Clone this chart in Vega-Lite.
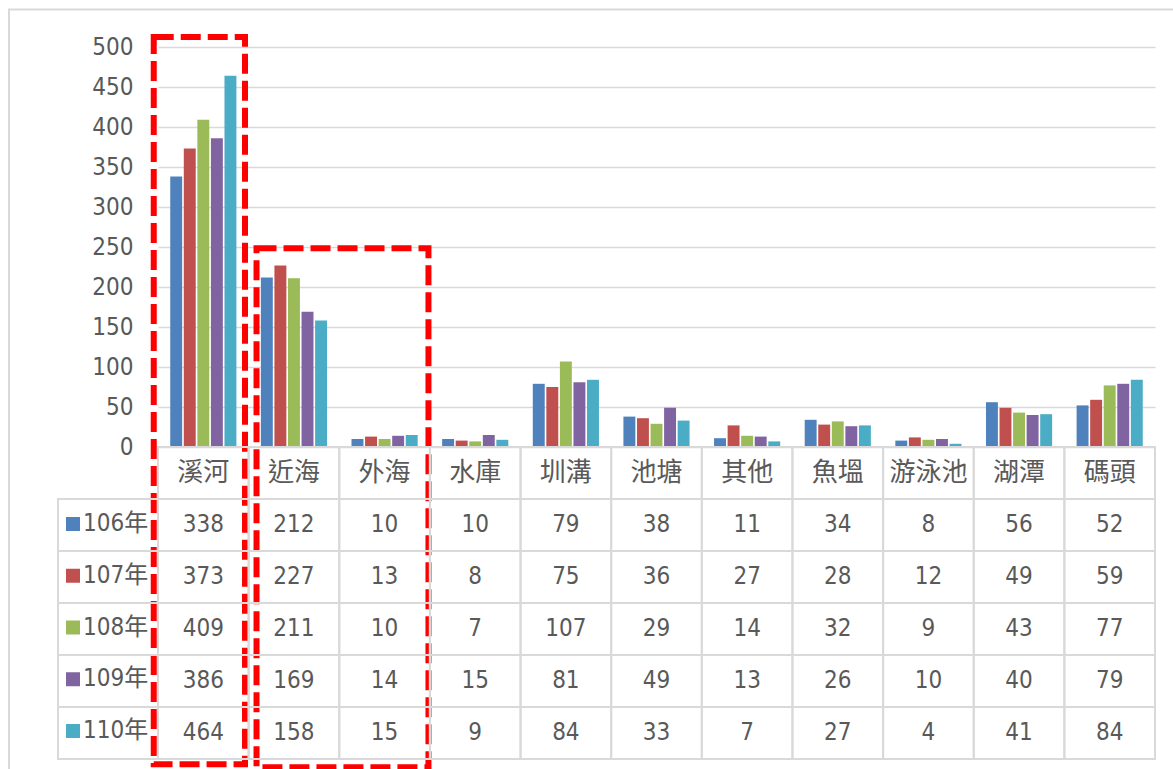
{
  "$schema": "https://vega.github.io/schema/vega-lite/v6.json",
  "padding": {"left": 7, "top": 8, "right": 0, "bottom": 0},
  "background": "white",
  "datasets": {
    "rows": [
      {"category": "溪河", "year": "106年", "value": 338},
      {"category": "溪河", "year": "107年", "value": 373},
      {"category": "溪河", "year": "108年", "value": 409},
      {"category": "溪河", "year": "109年", "value": 386},
      {"category": "溪河", "year": "110年", "value": 464},
      {"category": "近海", "year": "106年", "value": 212},
      {"category": "近海", "year": "107年", "value": 227},
      {"category": "近海", "year": "108年", "value": 211},
      {"category": "近海", "year": "109年", "value": 169},
      {"category": "近海", "year": "110年", "value": 158},
      {"category": "外海", "year": "106年", "value": 10},
      {"category": "外海", "year": "107年", "value": 13},
      {"category": "外海", "year": "108年", "value": 10},
      {"category": "外海", "year": "109年", "value": 14},
      {"category": "外海", "year": "110年", "value": 15},
      {"category": "水庫", "year": "106年", "value": 10},
      {"category": "水庫", "year": "107年", "value": 8},
      {"category": "水庫", "year": "108年", "value": 7},
      {"category": "水庫", "year": "109年", "value": 15},
      {"category": "水庫", "year": "110年", "value": 9},
      {"category": "圳溝", "year": "106年", "value": 79},
      {"category": "圳溝", "year": "107年", "value": 75},
      {"category": "圳溝", "year": "108年", "value": 107},
      {"category": "圳溝", "year": "109年", "value": 81},
      {"category": "圳溝", "year": "110年", "value": 84},
      {"category": "池塘", "year": "106年", "value": 38},
      {"category": "池塘", "year": "107年", "value": 36},
      {"category": "池塘", "year": "108年", "value": 29},
      {"category": "池塘", "year": "109年", "value": 49},
      {"category": "池塘", "year": "110年", "value": 33},
      {"category": "其他", "year": "106年", "value": 11},
      {"category": "其他", "year": "107年", "value": 27},
      {"category": "其他", "year": "108年", "value": 14},
      {"category": "其他", "year": "109年", "value": 13},
      {"category": "其他", "year": "110年", "value": 7},
      {"category": "魚塭", "year": "106年", "value": 34},
      {"category": "魚塭", "year": "107年", "value": 28},
      {"category": "魚塭", "year": "108年", "value": 32},
      {"category": "魚塭", "year": "109年", "value": 26},
      {"category": "魚塭", "year": "110年", "value": 27},
      {"category": "游泳池", "year": "106年", "value": 8},
      {"category": "游泳池", "year": "107年", "value": 12},
      {"category": "游泳池", "year": "108年", "value": 9},
      {"category": "游泳池", "year": "109年", "value": 10},
      {"category": "游泳池", "year": "110年", "value": 4},
      {"category": "湖潭", "year": "106年", "value": 56},
      {"category": "湖潭", "year": "107年", "value": 49},
      {"category": "湖潭", "year": "108年", "value": 43},
      {"category": "湖潭", "year": "109年", "value": 40},
      {"category": "湖潭", "year": "110年", "value": 41},
      {"category": "碼頭", "year": "106年", "value": 52},
      {"category": "碼頭", "year": "107年", "value": 59},
      {"category": "碼頭", "year": "108年", "value": 77},
      {"category": "碼頭", "year": "109年", "value": 79},
      {"category": "碼頭", "year": "110年", "value": 84}
    ]
  },
  "data": {"name": "rows"},
  "columns": 2,
  "spacing": 0,
  "bounds": "flush",
  "concat": [
    {
      "width": 100,
      "height": 400,
      "data": {"values": [{"t": ""}]},
      "mark": {"type": "text"},
      "encoding": {"text": {"field": "t", "type": "nominal"}}
    },
    {
      "width": 997,
      "height": 400,
      "resolve": {"scale": {"x": "independent", "y": "independent"}, "axis": {"y": "independent"}},
      "layer": [
        {
          "mark": {"type": "bar"},
          "encoding": {
            "x": {
              "field": "category",
              "type": "nominal",
              "sort": ["溪河", "近海", "外海", "水庫", "圳溝", "池塘", "其他", "魚塭", "游泳池", "湖潭", "碼頭"],
              "scale": {"domain": ["溪河", "近海", "外海", "水庫", "圳溝", "池塘", "其他", "魚塭", "游泳池", "湖潭", "碼頭"], "paddingInner": 0.27, "paddingOuter": 0.135},
              "axis": null
            },
            "xOffset": {"field": "year", "type": "nominal", "scale": {"paddingInner": 0.12}},
            "y": {
              "field": "value",
              "type": "quantitative",
              "scale": {"domain": [0, 500], "nice": false},
              "axis": {
                "values": [0, 50, 100, 150, 200, 250, 300, 350, 400, 450, 500],
                "tickCount": 20,
                "title": null,
                "domain": false,
                "ticks": false,
                "labelOverlap": false,
                "labelPadding": 25,
                "labelFontSize": 24,
                "labelFont": "DejaVu Sans Condensed, sans-serif",
                "labelColor": "#595959",
                "gridColor": "#d9d9d9",
                "gridWidth": 1.5
              }
            },
            "color": {
              "field": "year",
              "type": "nominal",
              "scale": {"domain": ["106年", "107年", "108年", "109年", "110年"], "range": ["#4f81bd", "#c0504d", "#9bbb59", "#8064a2", "#4bacc6"]},
              "legend": {
                "title": null,
                "orient": "none",
                "legendX": 3,
                "legendY": 465,
                "direction": "vertical",
                "symbolType": "square",
                "symbolSize": 196,
                "symbolStrokeWidth": 0,
                "labelFontSize": 24,
                "labelFont": "DejaVu Sans Condensed, Noto Sans CJK TC, sans-serif",
                "labelColor": "#595959",
                "labelBaseline": "middle",
                "labelOffset": -2,
                "rowPadding": 27.75,
                "padding": 0
              }
            }
          }
        },
        {
          "data": {"values": [{"x0": -1.644, "x1": 11.3, "y0": 547, "y1": -500}]},
          "mark": {"type": "rect", "fillOpacity": 0, "stroke": "#d9d9d9", "strokeWidth": 2, "clip": false},
          "encoding": {
            "x": {"field": "x0", "type": "quantitative", "scale": {"domain": [0, 11], "nice": false, "zero": false}, "axis": null},
            "x2": {"field": "x1"},
            "y": {"field": "y0", "type": "quantitative", "scale": {"domain": [0, 500], "nice": false, "zero": false}, "axis": null},
            "y2": {"field": "y1"}
          }
        },
        {
          "data": {"values": [{"x0": -0.047, "x1": 0.96, "y0": 512.5, "y1": -396.6}, {"x0": 1.087, "x1": 2.984, "y0": 248.4, "y1": -400.4}]},
          "mark": {"type": "rect", "fillOpacity": 0, "stroke": "#ff0000", "strokeWidth": 6, "strokeDash": [20, 7], "clip": false},
          "encoding": {
            "x": {"field": "x0", "type": "quantitative", "scale": {"domain": [0, 11], "nice": false, "zero": false}, "axis": null},
            "x2": {"field": "x1"},
            "y": {"field": "y0", "type": "quantitative", "scale": {"domain": [0, 500], "nice": false, "zero": false}, "axis": null},
            "y2": {"field": "y1"}
          }
        }
      ]
    },
    {
      "width": 100,
      "height": 312,
      "transform": [{"aggregate": [{"op": "count", "as": "n"}], "groupby": ["year"]}],
      "mark": {"type": "rect", "fillOpacity": 0, "stroke": "#d9d9d9", "strokeWidth": 2},
      "encoding": {
        "y": {
          "field": "year",
          "type": "nominal",
          "scale": {"domain": ["header", "106年", "107年", "108年", "109年", "110年"], "paddingInner": 0, "paddingOuter": 0},
          "axis": null
        }
      }
    },
    {
      "width": 997,
      "height": 312,
      "layer": [
        {
          "mark": {"type": "rect", "fillOpacity": 0, "stroke": "#d9d9d9", "strokeWidth": 2},
          "encoding": {
            "x": {
              "field": "category",
              "type": "nominal",
              "scale": {"domain": ["溪河", "近海", "外海", "水庫", "圳溝", "池塘", "其他", "魚塭", "游泳池", "湖潭", "碼頭"], "paddingInner": 0, "paddingOuter": 0},
              "axis": null
            },
            "y": {
              "field": "year",
              "type": "nominal",
              "scale": {"domain": ["header", "106年", "107年", "108年", "109年", "110年"], "paddingInner": 0, "paddingOuter": 0},
              "axis": null
            }
          }
        },
        {
          "transform": [{"aggregate": [{"op": "count", "as": "n"}], "groupby": ["category"]}, {"calculate": "'header'", "as": "row"}],
          "mark": {"type": "rect", "fillOpacity": 0, "stroke": "#d9d9d9", "strokeWidth": 2},
          "encoding": {
            "x": {"field": "category", "type": "nominal"},
            "y": {"field": "row", "type": "nominal"}
          }
        },
        {
          "mark": {"type": "text", "fontSize": 24, "font": "DejaVu Sans Condensed, sans-serif", "color": "#595959", "baseline": "middle"},
          "encoding": {
            "x": {"field": "category", "type": "nominal"},
            "y": {"field": "year", "type": "nominal"},
            "text": {"field": "value", "type": "quantitative"}
          }
        },
        {
          "transform": [{"aggregate": [{"op": "count", "as": "n"}], "groupby": ["category"]}, {"calculate": "'header'", "as": "row"}],
          "mark": {"type": "text", "fontSize": 26, "font": "Noto Sans CJK TC, sans-serif", "color": "#595959", "baseline": "middle"},
          "encoding": {
            "x": {"field": "category", "type": "nominal"},
            "y": {"field": "row", "type": "nominal"},
            "text": {"field": "category", "type": "nominal"}
          }
        }
      ]
    }
  ],
  "config": {
    "view": {"stroke": null},
    "font": "DejaVu Sans Condensed, Noto Sans CJK TC, sans-serif",
    "axis": {"labelOverlap": false},
    "axisY": {"tickCount": 20}
  }
}
